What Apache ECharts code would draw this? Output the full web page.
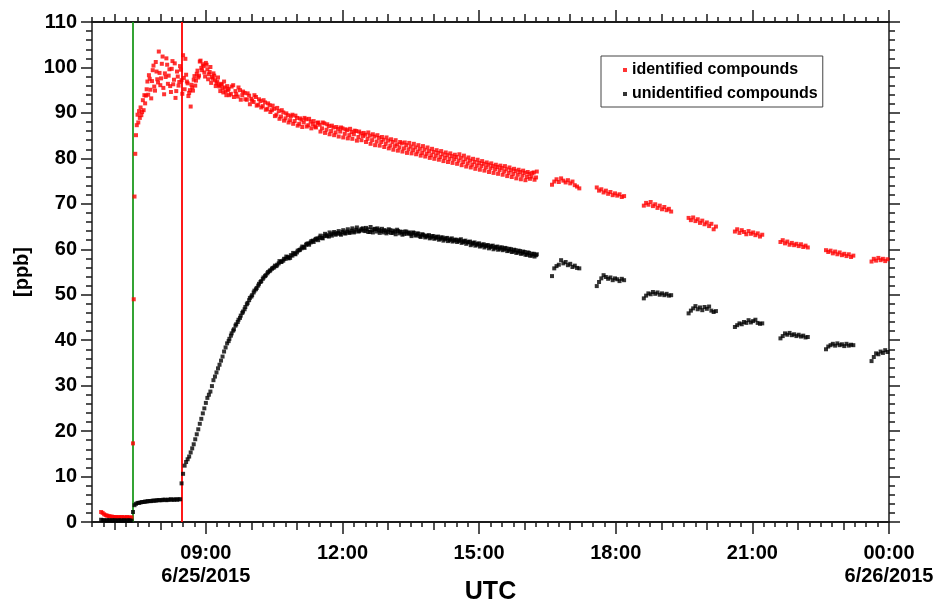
<!DOCTYPE html>
<html>
<head>
<meta charset="utf-8">
<script src="https://cdn.jsdelivr.net/npm/echarts@6.0.0/dist/echarts.min.js"></script>
<style>
  html, body { margin: 0; padding: 0; background: #fff; }
  #container { width: 938px; height: 606px; }
</style>
</head>
<body>
<div id="container"></div>
<script>
const container = document.getElementById('container');
const chart = echarts.init(container, undefined, { renderer: 'canvas' });

const FONT = '"Liberation Sans", Arial, sans-serif';

// x is in hours after 6/25/2015 00:00 UTC
const xMin = 6.5;
const xMax = 24;
const majorHours = [9, 12, 15, 18, 21, 24];
const dateLabels = { 9: '6/25/2015', 24: '6/26/2015' };

// valve marks (hours)
const greenLineAt = 7.40;
const redLineAt = 8.46;

// ---- identified compounds [ppb] ----
// 06:42, every 2 min
const identPre = [2.2, 2.0, 1.7, 1.5, 1.4, 1.3, 1.2, 1.2, 1.1, 1.1, 1.1, 1.0, 1.1, 1.0, 1.1, 1.0, 1.0, 1.1, 1.0, 1.0, 1.0];
// 07:24, every 1 min
const identRise = [17.3, 49.0, 71.6, 81.0, 85.1, 87.3, 89.6, 87.9, 90.4, 88.9, 91.2, 89.5, 90.2, 92.8, 90.6, 93.9];
// 07:40, every 2 min
const identPeak = [
  92.1, 95.2, 94.0, 97.5, 93.2, 99.4, 95.8, 101.2, 97.4, 103.5,
  96.1, 100.8, 95.5, 98.7, 102.0, 96.4, 99.6, 94.6, 101.4, 97.3,
  93.3, 99.1, 96.0, 100.3, 97.2, 102.7, 95.2, 98.4, 96.5, 94.4,
  91.4, 95.6, 97.3, 96.0, 98.6, 97.8, 101.3, 99.9, 100.7, 98.9,
  101.0, 99.6, 98.5, 100.1, 97.9, 98.7, 97.2, 96.5, 97.8, 95.8,
  96.4, 95.4, 96.9, 94.7, 95.9
];
// 07:41, every 2 min
const identPeakB = [
  93.8, 96.9, 98.3, 95.1, 97.0, 100.4, 94.9, 99.1, 96.7, 98.8,
  97.6, 102.4, 94.1, 97.9, 100.6, 98.2, 95.9, 99.7, 96.3, 100.9,
  94.8, 98.0, 96.8, 99.5, 94.2, 97.7, 101.9, 96.9, 93.7, 95.0,
  96.2, 94.9, 98.1, 97.1, 99.3, 98.2, 101.5, 99.4, 100.3, 98.0,
  100.6, 97.4, 99.0, 96.6, 97.5, 98.2, 95.9, 96.9, 96.1, 94.8,
  96.2, 94.5, 95.6, 93.9, 95.0
];
// 09:30, every 3 min
const identDecay = [
  95.3, 94.2, 96.1, 94.8, 93.6, 95.0, 93.9, 94.4, 92.9, 93.8, 93.1, 92.4, 93.5, 91.8, 92.6, 91.5, 92.3, 90.9, 91.7, 90.6,
  90.9, 89.6, 90.4, 89.2, 90.1, 88.8, 89.5, 88.4, 89.6, 88.2, 88.9, 87.6, 88.5, 87.9, 88.6, 87.3, 88.1, 87.5, 87.0, 87.8,
  87.4, 86.6, 87.7, 86.3, 87.1, 86.0, 86.8, 85.7, 86.5, 85.9, 86.6, 85.4, 86.2, 85.1, 85.8, 85.3, 86.0, 84.7, 85.5, 84.9,
  85.2, 84.3, 85.0, 84.0, 84.8, 83.7, 84.5, 83.6, 84.1, 83.2, 83.9, 82.8, 83.6, 82.7, 83.1, 82.4, 83.3, 82.2, 82.9, 82.0,
  82.6, 81.8, 82.4, 81.5, 82.1, 81.2, 81.9, 81.0, 81.6, 80.7, 81.4, 80.6, 81.2, 80.3, 80.9, 80.1, 80.7, 79.9, 80.5, 79.8,
  80.3, 79.5, 80.1, 79.2, 79.8, 78.9, 79.5, 78.6, 79.2, 78.4, 79.0, 78.3, 78.8, 78.0, 78.6, 77.8, 78.3, 77.6, 78.1, 77.4,
  77.9, 77.1, 77.6, 76.8, 77.4, 76.6, 77.2, 76.4, 77.0, 76.2, 76.8, 75.9, 76.6, 76.0, 76.9, 75.8
];
// 09:31, every 3 min
const identDecayB = [
  93.9, 95.8, 93.5, 94.1, 95.6, 92.9, 94.7, 93.0, 94.3, 91.9, 92.7, 93.9, 91.6, 93.0, 91.2, 92.8, 90.7, 92.1, 90.2, 91.6,
  89.3, 91.1, 88.7, 90.6, 88.3, 89.9, 87.9, 89.3, 87.6, 89.4, 87.2, 88.8, 86.9, 88.9, 87.0, 88.7, 86.6, 88.2, 86.8, 87.9,
  85.9, 87.9, 85.6, 87.5, 85.3, 87.2, 85.1, 86.9, 84.8, 86.8, 84.6, 86.4, 84.4, 86.5, 84.3, 86.1, 83.9, 85.9, 84.0, 85.6,
  83.6, 85.7, 83.2, 85.3, 82.9, 85.1, 82.8, 84.7, 82.5, 84.6, 82.2, 84.2, 81.9, 84.0, 81.7, 83.6, 81.5, 83.5, 81.2, 83.4,
  81.1, 83.2, 80.9, 82.9, 80.6, 82.7, 80.4, 82.4, 80.1, 82.1, 79.9, 81.8, 79.7, 81.6, 79.4, 81.3, 79.2, 81.1, 79.0, 80.8,
  78.8, 80.9, 78.5, 80.6, 78.2, 80.2, 78.0, 79.9, 77.7, 79.7, 77.5, 79.4, 77.3, 79.1, 77.0, 78.9, 76.8, 78.6, 76.6, 78.4,
  76.4, 78.3, 76.1, 78.0, 75.9, 77.7, 75.6, 77.5, 75.4, 77.3, 75.2, 77.0, 75.5, 76.8, 75.3, 77.1
];

// hourly sampling bursts in the evening, every 3 min
const burstStarts = ['16:36', '17:35', '18:37', '19:36', '20:37', '21:37', '22:37', '23:37'];
const identBursts = [
  [74.2, 74.9, 75.4, 74.8, 75.6, 75.1, 74.7, 75.2, 74.5, 74.9, 74.1, 73.8, 73.4],
  [73.6, 72.9, 73.2, 72.5, 72.9, 72.2, 72.6, 71.9, 72.3, 71.8, 72.1, 71.5, 71.7],
  [69.6, 70.2, 69.8, 70.4, 69.5, 69.9, 69.1, 69.6, 68.8, 69.3, 68.6, 68.9, 68.3],
  [66.9, 66.4, 67.0, 66.2, 66.6, 65.8, 66.3, 65.5, 65.9, 65.1, 65.6, 64.4, 65.0],
  [63.9, 64.4, 63.6, 64.2, 63.8, 63.3, 64.0, 63.4, 63.7, 63.1, 63.5, 62.8, 63.2],
  [61.6, 62.0, 61.3, 61.7, 61.0, 61.4, 60.9, 61.2, 60.7, 61.1, 60.5, 60.8, 60.4],
  [59.8, 59.4, 59.7, 59.1, 59.5, 58.9, 59.3, 58.7, 59.0, 58.5, 58.9, 58.3, 58.6],
  [57.3, 57.9, 57.5, 58.1, 57.6, 57.9, 57.4, 57.8]
];

// ---- unidentified compounds [ppb] ----
// 06:42, every 2 min
const unidPre = [0.5, 0.4, 0.4, 0.3, 0.4, 0.4, 0.3, 0.4, 0.3, 0.4, 0.3, 0.3, 0.4, 0.3, 0.3, 0.4, 0.3, 0.3, 0.4, 0.3, 0.3];
// 07:24, every 2 min
const unidFlat = [
  2.2, 3.7, 4.0, 4.2, 4.2, 4.3, 4.4, 4.4, 4.5, 4.5, 4.6, 4.6, 4.6, 4.7, 4.7, 4.7,
  4.8, 4.8, 4.8, 4.8, 4.9, 4.9, 4.8, 4.9, 4.9, 5.0, 4.9, 4.9, 5.0, 4.9, 5.0, 5.0
];
// 08:28, every 2 min
const unidRise = [
  8.5, 10.6, 12.4, 13.2, 13.8, 14.4, 15.3, 16.2, 17.1, 18.2, 19.3, 20.4, 21.6, 22.7, 23.9, 25.0,
  26.2, 27.3, 28.0, 28.7, 29.9, 31.2, 32.0, 32.9, 33.8, 34.6, 35.5, 36.4, 37.5, 38.4, 39.3
];
// 09:30, every 3 min
const unidMain = [
  39.8, 41.0, 42.1, 43.2, 44.0, 44.9, 46.0, 46.8, 47.9, 48.8, 49.6, 50.5, 51.2, 52.0, 52.8, 53.5, 54.1, 54.7, 55.2, 55.7,
  56.0, 56.3, 56.9, 57.2, 57.5, 57.9, 58.3, 58.1, 58.6, 59.0, 59.3, 59.8, 60.2, 60.5, 61.0, 61.3, 61.5, 61.9, 62.1, 62.4,
  62.6, 62.5, 62.9, 63.1, 62.8, 63.3, 63.5, 63.2, 63.6, 63.4, 63.8, 63.5, 63.9, 63.6, 64.1, 63.7, 64.3, 63.9, 64.2, 64.6,
  64.0, 64.4, 63.8, 64.2, 64.5, 63.9, 64.3, 64.0, 63.7, 64.1, 63.8, 64.2, 63.6, 63.9, 64.3, 63.5, 63.8, 63.4, 63.9, 63.6,
  63.3, 63.7, 63.2, 63.5, 62.9, 63.3, 63.0, 62.8, 63.1, 62.6, 62.9, 62.5, 62.8, 62.3, 62.6, 62.2, 62.5, 62.0, 62.4, 61.9,
  62.1, 61.8, 62.2, 61.6, 61.9, 61.5, 61.7, 61.2, 61.5, 61.0, 61.3, 60.8, 61.1, 60.7, 60.9, 60.5, 60.8, 60.3, 60.6, 60.1,
  60.4, 60.0, 60.2, 59.7, 60.0, 59.5, 59.8, 59.3, 59.6, 59.1, 59.4, 58.8, 59.2, 58.6, 59.0, 58.7
];
// 09:31, every 3 min
const unidMainB = [
  40.3, 41.5, 42.4, 43.5, 44.5, 45.4, 46.3, 47.3, 48.2, 49.3, 49.9, 50.9, 51.5, 52.4, 53.0, 53.8, 54.3, 55.0, 55.4, 55.9,
  56.4, 56.6, 57.4, 57.3, 57.9, 58.4, 58.0, 58.7, 59.2, 58.9, 59.7, 59.9, 60.6, 60.3, 61.2, 61.0, 61.8, 61.6, 62.3, 62.0,
  63.0, 62.4, 63.4, 62.9, 63.7, 63.0, 63.8, 63.4, 64.0, 63.2, 64.2, 63.5, 64.4, 63.7, 64.6, 63.9, 64.8, 64.0, 64.5, 64.1,
  64.7, 63.8, 64.9, 63.7, 64.4, 64.6, 63.6, 64.5, 64.2, 63.5, 64.4, 63.6, 64.1, 63.3, 64.0, 63.9, 63.2, 63.9, 63.4, 63.7,
  62.9, 63.6, 63.0, 63.4, 62.7, 63.2, 62.6, 63.0, 62.4, 62.9, 62.3, 62.7, 62.1, 62.6, 61.9, 62.4, 61.8, 62.2, 61.7, 62.1,
  61.6, 62.0, 61.4, 61.8, 61.2, 61.6, 60.9, 61.4, 60.8, 61.2, 60.6, 61.0, 60.4, 60.9, 60.2, 60.7, 60.0, 60.5, 59.9, 60.4,
  59.8, 60.3, 59.6, 60.1, 59.4, 59.9, 59.2, 59.7, 59.0, 59.5, 58.8, 59.3, 58.6, 59.0, 58.4, 58.9
];
const unidBursts = [
  [54.1, 55.8, 56.3, 56.6, 57.6, 56.9, 57.2, 56.5, 56.8, 56.1, 56.4, 55.9, 55.8],
  [51.9, 52.8, 53.6, 54.3, 53.9, 53.5, 53.8, 53.2, 53.6, 53.4, 53.0, 53.5, 53.2],
  [49.2, 49.8, 50.3, 50.1, 50.6, 50.2, 50.5, 50.0, 50.3, 49.9, 50.2, 49.8, 49.9],
  [45.9, 46.5, 47.0, 47.5, 46.8, 47.2, 46.6, 47.3, 46.9, 47.4, 46.5, 46.2, 46.4],
  [42.9, 43.3, 43.7, 43.5, 44.0, 43.8, 44.4, 43.9, 44.2, 44.5, 43.8, 43.6, 43.7],
  [40.4, 40.9, 41.5, 41.2, 41.6, 41.1, 41.3, 40.9, 41.2, 40.8, 41.0, 40.6, 40.7],
  [38.0, 38.6, 38.9, 39.2, 38.8, 39.3, 38.9, 39.1, 38.7, 39.2, 38.8, 39.0, 38.9],
  [35.4, 36.3, 37.1, 36.9, 37.5, 37.2, 37.8, 37.4]
];

function hours(hhmm) {
  const [h, m] = hhmm.split(':').map(Number);
  return h + m / 60;
}
// sampled block: start time, sampling step in minutes, values
function block(start, step, values) {
  const t0 = hours(start);
  return values.map((v, i) => [t0 + i * step / 60, v]);
}
function bursts(list) {
  return list.flatMap((vals, k) => block(burstStarts[k], 3, vals));
}

const identData = [].concat(
  block('06:42', 2, identPre),
  block('07:24', 1, identRise),
  block('07:40', 2, identPeak),
  block('07:41', 2, identPeakB),
  block('09:30', 3, identDecay),
  block('09:31', 3, identDecayB),
  bursts(identBursts)
);
const unidData = [].concat(
  block('06:42', 2, unidPre),
  block('07:24', 2, unidFlat),
  block('08:28', 2, unidRise),
  block('09:30', 3, unidMain),
  block('09:31', 3, unidMainB),
  bursts(unidBursts)
);

// tick positions
const hourTicks = [];
for (let h = 7; h <= 23; h++) hourTicks.push(h);
const quarterTicks = [];
for (let q = xMin; q <= xMax + 1e-9; q += 0.25) quarterTicks.push(q);

const axisColor = '#1a1a1a';
const lineStyle = { color: axisColor, width: 1.5 };

function xAxisDef(position, ticks, len, withLabels) {
  return {
    type: 'value',
    position: position,
    min: xMin,
    max: xMax,
    axisLine: { show: true, onZero: false, lineStyle: lineStyle },
    axisTick: { show: true, inside: false, length: len, customValues: ticks, lineStyle: lineStyle },
    axisLabel: withLabels ? {
      customValues: majorHours,
      margin: 20,
      fontSize: 20,
      lineHeight: 23,
      fontWeight: 'bold',
      fontFamily: FONT,
      color: '#000',
      formatter: function (v) {
        const h = Math.round(v);
        const txt = String(h % 24).padStart(2, '0') + ':00';
        return dateLabels[h] ? txt + '\n' + dateLabels[h] : txt;
      }
    } : { show: false },
    splitLine: { show: false },
    name: withLabels ? 'UTC' : '',
    nameLocation: 'middle',
    nameGap: 58,
    nameMoveOverlap: false,
    nameTextStyle: { fontSize: 25, fontWeight: 'bold', fontFamily: FONT, color: '#000' }
  };
}

function yAxisDef(position, withLabels) {
  return {
    type: 'value',
    position: position,
    min: 0,
    max: 110,
    interval: 10,
    axisLine: { show: true, onZero: false, lineStyle: lineStyle },
    axisTick: { show: true, inside: false, length: 11, lineStyle: lineStyle },
    minorTick: { show: true, splitNumber: 5, length: 6, lineStyle: lineStyle },
    axisLabel: withLabels ? {
      margin: 15, fontSize: 20, fontWeight: 'bold', fontFamily: FONT, color: '#000'
    } : { show: false },
    splitLine: { show: false },
    name: withLabels ? '[ppb]' : '',
    nameLocation: 'middle',
    nameGap: 60,
    nameMoveOverlap: false,
    nameRotate: 90,
    nameTextStyle: { fontSize: 20, fontWeight: 'bold', fontFamily: FONT, color: '#000' }
  };
}

const option = {
  animation: false,
  backgroundColor: '#fff',
  grid: { left: 92, right: 49, top: 22, bottom: 84, containLabel: false, outerBoundsMode: 'none' },
  legend: {
    orient: 'vertical',
    left: 601,
    top: 56,
    data: ['identified compounds', 'unidentified compounds'],
    icon: 'rect',
    itemWidth: 4,
    itemHeight: 4,
    itemGap: 8,
    padding: [6, 5, 5, 22],
    borderColor: '#444',
    borderWidth: 1,
    backgroundColor: '#fff',
    selectedMode: false,
    textStyle: { fontSize: 16, lineHeight: 16, fontWeight: 'bold', fontFamily: FONT, color: '#000' }
  },
  xAxis: [
    xAxisDef('bottom', majorHours, 12, true),
    xAxisDef('bottom', hourTicks, 8, false),
    xAxisDef('bottom', quarterTicks, 5, false),
    xAxisDef('top', majorHours, 12, false),
    xAxisDef('top', hourTicks, 8, false),
    xAxisDef('top', quarterTicks, 5, false)
  ],
  yAxis: [
    yAxisDef('left', true),
    yAxisDef('right', false)
  ],
  series: [
    {
      type: 'line',
      data: [],
      silent: true,
      markLine: {
        z: 1,
        symbol: 'none',
        silent: true,
        label: { show: false },
        data: [
          { xAxis: greenLineAt, lineStyle: { color: '#1e9a1e', width: 1.8, type: 'solid' } },
          { xAxis: redLineAt, lineStyle: { color: '#ff0000', width: 1.8, type: 'solid' } }
        ]
      }
    },
    {
      name: 'identified compounds',
      type: 'scatter',
      symbol: 'rect',
      symbolSize: 4,
      itemStyle: { color: '#ff0000' },
      data: identData,
      z: 3
    },
    {
      name: 'unidentified compounds',
      type: 'scatter',
      symbol: 'rect',
      symbolSize: 4,
      itemStyle: { color: '#000000' },
      data: unidData,
      z: 3
    }
  ]
};

chart.setOption(option);
</script>
</body>
</html>
